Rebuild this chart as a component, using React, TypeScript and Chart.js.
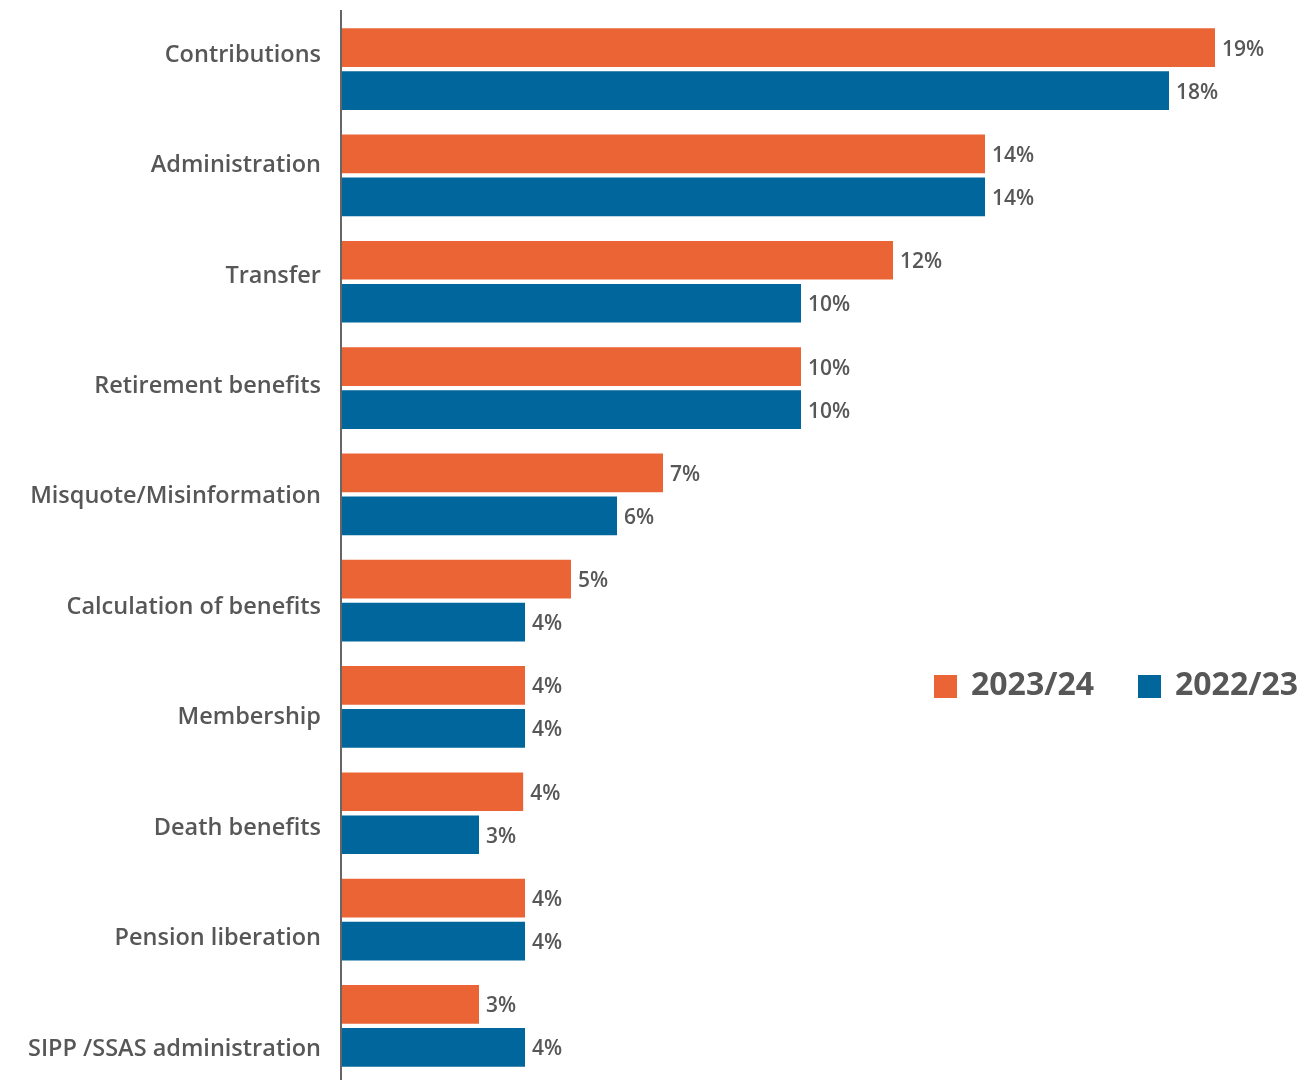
import React, { useEffect, useRef } from "react";
import { Chart, registerables } from "chart.js";

Chart.register(...registerables);

const categories = [
  "Contributions",
  "Administration",
  "Transfer",
  "Retirement benefits",
  "Misquote/Misinformation",
  "Calculation of benefits",
  "Membership",
  "Death benefits",
  "Pension liberation",
  "SIPP /SSAS administration",
];
const series2023 = [19, 14, 12, 10, 7, 5, 4, 3.96, 4, 3];
const series2022 = [18, 14, 10, 10, 6, 4, 4, 3, 4, 4];
const labels2023 = ["19%", "14%", "12%", "10%", "7%", "5%", "4%", "4%", "4%", "3%"];
const labels2022 = ["18%", "14%", "10%", "10%", "6%", "4%", "4%", "3%", "4%", "4%"];
const seriesNames = ["2023/24", "2022/23"];
// label axis range (category index units), labels are spread slightly wider than the bar groups
const labelAxisMin = -0.335;
const labelAxisMax = 9.29;

const ORANGE = "#EB6436";
const BLUE = "#00669B";
const TEXT = "#575757";
const FONT = "'Open Sans', 'Noto Sans', sans-serif";

export default function App() {
  const ref = useRef<HTMLCanvasElement | null>(null);
  useEffect(() => {
    document.body.style.margin = "0";
    const canvas = ref.current;
    if (!canvas) return;
    const valueLabels = [labels2023, labels2022];
    const labelPlugin = {
      id: "valueLabels",
      afterDatasetsDraw(chart: any) {
        const ctx = chart.ctx;
        ctx.save();
        ctx.font = `600 21px ${FONT}`;
        ctx.fillStyle = TEXT;
        ctx.textAlign = "left";
        ctx.textBaseline = "middle";
        chart.data.datasets.forEach((_: any, di: number) => {
          const meta = chart.getDatasetMeta(di);
          meta.data.forEach((el: any, i: number) => {
            ctx.fillText(valueLabels[di][i], el.x + 7, el.y + 2);
          });
        });
        ctx.restore();
      },
      afterDraw(chart: any) {
        const ctx = chart.ctx;
        const area = chart.chartArea;
        ctx.save();
        ctx.strokeStyle = "#666666";
        ctx.lineWidth = 2;
        ctx.beginPath();
        ctx.moveTo(area.left, 10);
        ctx.lineTo(area.left, chart.height);
        ctx.stroke();
        const colors = [ORANGE, BLUE];
        const xs = [934, 1138];
        ctx.font = `700 32px ${FONT}`;
        ctx.textBaseline = "middle";
        ctx.textAlign = "left";
        seriesNames.forEach((name, i) => {
          ctx.fillStyle = colors[i];
          ctx.fillRect(xs[i], 675, 23, 23);
          ctx.fillStyle = TEXT;
          ctx.fillText(name, xs[i] + 37, 686);
        });
        ctx.restore();
      },
    };
    const chart = new Chart(canvas, {
      type: "bar",
      data: {
        labels: categories,
        datasets: [
          { label: seriesNames[0], data: series2023, backgroundColor: ORANGE, yAxisID: "y" },
          { label: seriesNames[1], data: series2022, backgroundColor: BLUE, yAxisID: "y" },
        ],
      },
      options: {
        indexAxis: "y",
        animation: false,
        responsive: false,
        maintainAspectRatio: false,
        layout: { padding: { top: 16, bottom: 1, left: 0, right: 50 } },
        datasets: {
          bar: { categoryPercentage: 0.809, barPercentage: 0.9 },
        },
        plugins: {
          legend: { display: false },
          tooltip: { enabled: false },
        },
        scales: {
          x: {
            display: false,
            min: 0,
            max: 20,
          },
          y: {
            display: false,
          },
          yLabels: {
            type: "linear",
            position: "left",
            reverse: true,
            offset: false,
            min: labelAxisMin,
            max: labelAxisMax,
            grid: { display: false, drawTicks: false, offset: false },
            border: { display: false },
            ticks: {
              autoSkip: false,
              color: TEXT,
              font: { family: FONT, size: 23.5, weight: 600 as any },
              padding: 20,
              labelOffset: 2,
              callback: (v: any) => {
                const i = Math.round(Number(v));
                return categories[i] ?? "";
              },
            },
            afterDataLimits(scale: any) {
              scale.min = labelAxisMin;
              scale.max = labelAxisMax;
            },
            afterBuildTicks(scale: any) {
              scale.ticks = categories.map((_, i) => ({ value: i }));
              scale.min = labelAxisMin;
              scale.max = labelAxisMax;
            },
            afterFit(scale: any) {
              scale.width = 341;
              scale.paddingTop = 0;
              scale.paddingBottom = 0;
            },
          } as any,
        },
      },
      plugins: [labelPlugin],
    });
    return () => chart.destroy();
  }, []);
  return (
    <div style={{ width: 1311, height: 1080 }}>
      <canvas ref={ref} width={1311} height={1080} style={{ display: "block" }} />
    </div>
  );
}
